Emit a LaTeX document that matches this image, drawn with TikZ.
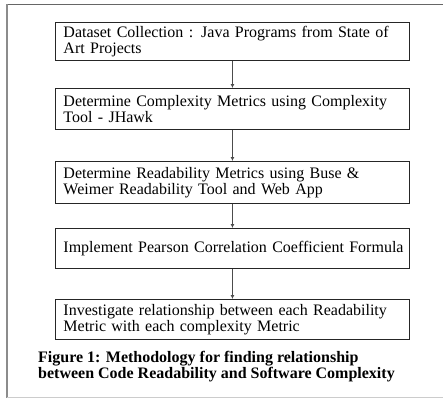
\documentclass[tikz,border=0pt]{standalone}
\usepackage{fontspec}
\setmainfont{Liberation Serif}
\usetikzlibrary{arrows.meta}
\newcommand{\ind}{\hspace*{4pt}}
\hyphenpenalty=10000
\begin{document}
\begin{tikzpicture}[x=1pt,y=-1pt,
  stepbox/.style={draw=black!85,line width=0.9pt,text width=346pt,
    align=left,inner xsep=4pt,inner ysep=0pt,font=\fontsize{16}{15.5}\selectfont,anchor=north west},
  flow/.style={draw=black!70,line width=0.9pt,-{Latex[length=4pt,width=4pt]}}]
\useasboundingbox (0,0) rectangle (443,399);
\draw[black!60,line width=1pt] (7,4.5) -- (443,4.5);
\draw[black!45,line width=2pt] (7,4) -- (7,397.5);
\draw[black!20,line width=1.2pt] (7,397.5) -- (443,397.5);
\node[stepbox,minimum height=38pt] (b1) at (55,22) {\ind Dataset Collection : Java Programs from State of\\\ind Art Projects};
\node[stepbox,minimum height=41pt] (b2) at (55,88) {\ind Determine Complexity Metrics using Complexity\\\ind Tool - JHawk};
\node[stepbox,minimum height=42pt] (b3) at (55,161) {\ind Determine Readability Metrics using Buse \&\\\ind Weimer Readability Tool and Web App};
\node[stepbox,minimum height=40pt] (b4) at (55,228) {\ind Implement Pearson Correlation Coefficient Formula};
\node[stepbox,minimum height=40pt] (b5) at (55,299) {\ind Investigate relationship between each Readability\\\ind Metric with each complexity Metric};
\draw[flow] (b1.south) -- (b2.north);
\draw[flow] (b2.south) -- (b3.north);
\draw[flow] (b3.south) -- (b4.north);
\draw[flow] (b4.south) -- (b5.north);
\node[anchor=west,align=left,inner sep=0pt,font=\fontsize{16}{16}\selectfont\bfseries] (cap) at (38,367) {Figure 1: Methodology for finding relationship\\between Code Readability and Software Complexity};
\end{tikzpicture}
\end{document}
